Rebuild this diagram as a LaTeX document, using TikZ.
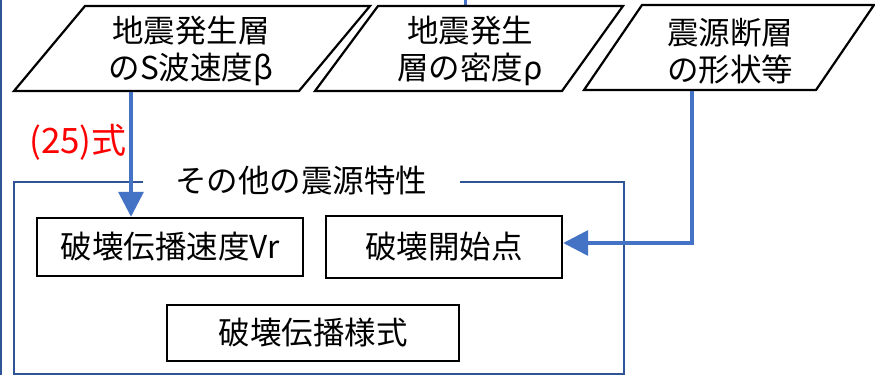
\documentclass[tikz,border=0pt]{standalone}
\usepackage{fontspec}
\setmainfont{Noto Sans CJK JP}
\usetikzlibrary{arrows.meta}
\definecolor{arrowblue}{HTML}{4472C4}
\definecolor{groupblue}{HTML}{2F5597}
\definecolor{labelred}{HTML}{FF0000}
\tikzset{
  txt/.style={font=\fontsize{31.5}{37}\selectfont, align=center, inner sep=0pt},
  shapeline/.style={draw=black, line width=2.2pt, line join=miter},
  boxnode/.style={draw=black, line width=2.4pt, minimum height=58pt, inner sep=0pt, font=\fontsize{31.5}{37}\selectfont},
  flow/.style={draw=arrowblue, line width=3.5pt, -{Triangle[length=25pt,width=25pt]}},
  grp/.style={draw=groupblue, line width=2pt},
}
\begin{document}
\begin{tikzpicture}[x=1pt,y=-1pt]
\useasboundingbox (0,0) rectangle (875,375);
% fragments of surrounding lines
\draw[grp, line width=2pt] (1,0) -- (1,375);
\draw[draw=arrowblue, line width=3pt] (465,0) -- (465,6);
% parallelograms
\draw[shapeline] (14,91) -- (85,6) -- (370,6) -- (299,91) -- cycle;
\draw[shapeline] (315,91) -- (378,6) -- (623,6) -- (562,91) -- cycle;
\draw[shapeline] (584,90) -- (642,5) -- (874,5) -- (816,90) -- cycle;
\node[txt] (p1) at (191,51) {地震発生層\\のS波速度β};
\node[txt] (p2) at (470,51) {地震発生\\層の密度ρ};
\node[txt] (p3) at (730,51) {震源断層\\の形状等};
% group box
\draw[grp] (143,182) -- (14,182) -- (14,374) -- (624,374) -- (624,182) -- (460,182);
\node[txt] (gt) at (301,181) {その他の震源特性};
% boxes
\node[boxnode, minimum width=266pt] (vr) at (170,247) {破壊伝播速度Vr};
\node[boxnode, minimum width=236pt, minimum height=62pt] (start) at (444,247) {破壊開始点};
\node[boxnode, minimum width=292pt, minimum height=56pt] (mode) at (313,333) {破壊伝播様式};
% label
\node[txt, text=labelred, font=\fontsize{35}{40}\selectfont] (eq) at (78,142) {(25)式};
% connectors
\coordinate (p1b) at (131,92);
\coordinate (p3b) at (692,91);
\draw[flow] (p1b) -- (p1b |- vr.north);
\draw[flow] (p3b) -- (692,243) -- (start.east |- 692,243);
\end{tikzpicture}
\end{document}
